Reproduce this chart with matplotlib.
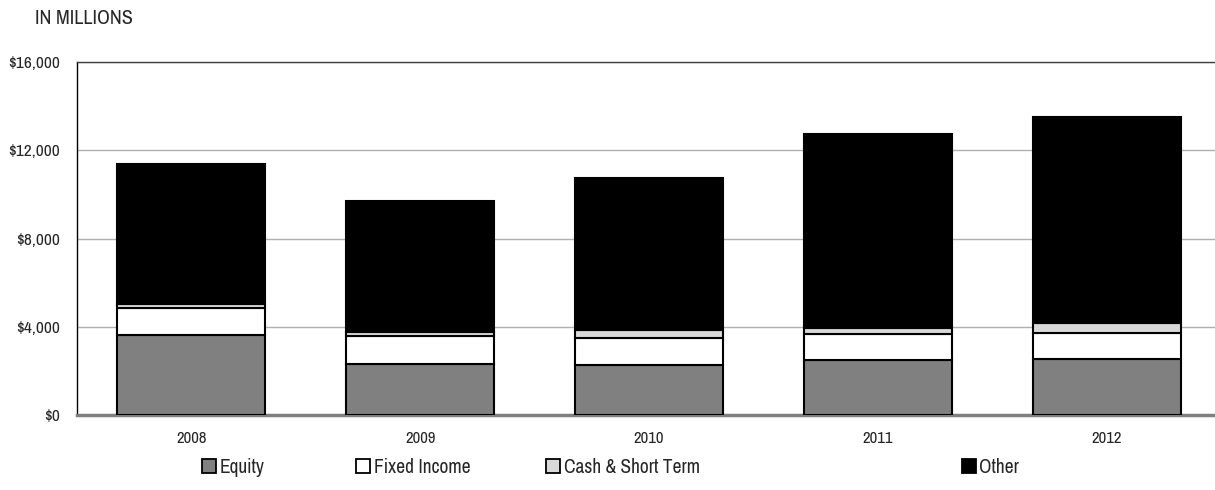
import matplotlib
matplotlib.use("Agg")
import matplotlib.pyplot as plt
from matplotlib.patches import Patch
from matplotlib import font_manager

plt.rcParams['font.family'] = ['Liberation Sans', 'DejaVu Sans']
_pick = None
for _st in ('extra-condensed', 'condensed', 'semi-condensed'):
    _c = sorted([f for f in font_manager.fontManager.ttflist if f.stretch == _st],
                key=lambda f: (f.name, str(f.weight)))
    if _c:
        _pick = _c[0]
        break
if _pick is not None:
    plt.rcParams['font.family'] = [_pick.name, 'Liberation Sans', 'DejaVu Sans']
    plt.rcParams['font.stretch'] = _pick.stretch
    plt.rcParams['font.weight'] = 600

years = ["2008", "2009", "2010", "2011", "2012"]
equity = [3640, 2330, 2290, 2510, 2560]
fixed_income = [1240, 1275, 1190, 1150, 1180]
cash_short = [150, 150, 395, 290, 420]
other = [6360, 5930, 6850, 8770, 9340]

series = [
    ("Equity", equity, "#808080"),
    ("Fixed Income", fixed_income, "#ffffff"),
    ("Cash & Short Term", cash_short, "#d9d9d9"),
    ("Other", other, "#000000"),
]

W, H = 1215, 490
fig = plt.figure(figsize=(W / 100, H / 100), dpi=100)
ax = fig.add_axes([77 / W, 1 - 415.3 / H, (1221 - 77) / W, (415.3 - 62) / H])

x = list(range(len(years)))
bottom = [0] * len(years)
for name, vals, col in series:
    ax.bar(x, vals, width=0.646, bottom=bottom, color=col, edgecolor="black",
           linewidth=1.5, zorder=3)
    bottom = [b + v for b, v in zip(bottom, vals)]

txt = "#262626"
ax.set_xlim(-0.5, 4.5)
ax.set_ylim(0, 16000)
yt = [0, 4000, 8000, 12000, 16000]
ax.set_yticks(yt)
ax.set_yticklabels(["${:,}".format(v) for v in yt], fontsize=12.5, color=txt)
ax.set_xticks(x)
ax.set_xticklabels(years, fontsize=12, color=txt)
ax.tick_params(axis="both", length=0)
ax.tick_params(axis="y", pad=12)
ax.tick_params(axis="x", pad=11)
ax.yaxis.grid(True, color="#b0b0b0", linewidth=1, zorder=0)
ax.set_axisbelow(True)
ax.spines["top"].set_color("#404040")
ax.spines["top"].set_linewidth(1)
ax.spines["left"].set_color("black")
ax.spines["left"].set_linewidth(1)
ax.spines["bottom"].set_color("#808080")
ax.spines["bottom"].set_linewidth(2.5)
ax.spines["right"].set_visible(False)

fig.text(35 / W, 1 - 19 / H, "IN MILLIONS", fontsize=14.5, va="center", ha="left",
         color=txt)

leg_x = [202, 356, 546, 962]
for (name, vals, col), lx in zip(series, leg_x):
    h = Patch(facecolor=col, edgecolor="black", linewidth=1.3)
    lg = fig.legend(handles=[h], labels=[name], loc="center left",
                    bbox_to_anchor=(lx / W, 1 - 467 / H), frameon=False,
                    fontsize=14, handlelength=0.7, handleheight=0.7,
                    handletextpad=0.2, borderpad=0, borderaxespad=0)
    for t in lg.get_texts():
        t.set_color(txt)

fig.savefig("out.png", dpi=100)
